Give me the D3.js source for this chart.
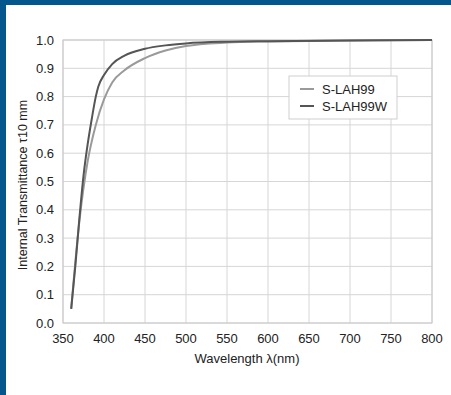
<!DOCTYPE html>
<html>
<head>
<meta charset="utf-8">
<script src="https://cdn.jsdelivr.net/npm/d3@7"></script>
<style>
  html, body { margin: 0; padding: 0; background: #fff; }
  svg { display: block; font-family: "Liberation Sans", Arial, sans-serif; }
</style>
</head>
<body>
<svg id="chart" width="451" height="395"></svg>
<script>
// wavelengths (nm) and transmittance for each glass
const wlA = [360, 370, 380, 390, 400, 410, 425, 450, 475, 500, 550, 600, 700, 800];
const laH99 = [0.05, 0.36, 0.57, 0.70, 0.79, 0.85, 0.893, 0.936, 0.963, 0.979, 0.991, 0.995, 0.998, 1.0];
const wlB = [360, 365, 370, 375, 380, 385, 390, 393, 400, 410, 425, 450, 475, 500, 550, 600, 700, 800];
const laH99W = [0.05, 0.2, 0.37, 0.52, 0.63, 0.72, 0.80, 0.835, 0.876, 0.915, 0.945, 0.969, 0.981, 0.988, 0.994, 0.996, 0.998, 1.0];
const xTicks = [350, 400, 450, 500, 550, 600, 650, 700, 750, 800];
const yTicks = [0, 0.1, 0.2, 0.3, 0.4, 0.5, 0.6, 0.7, 0.8, 0.9, 1.0];
const seriesNames = ["S-LAH99", "S-LAH99W"];
const seriesColors = ["#9a9a9a", "#555555"];

const svg = d3.select("#chart");

// blue frame on top and left
svg.append("rect").attr("x", 0).attr("y", 0).attr("width", 451).attr("height", 5).attr("fill", "#03578c");
svg.append("rect").attr("x", 0).attr("y", 0).attr("width", 6).attr("height", 395).attr("fill", "#03578c");

const pLeft = 63, pRight = 432, pTop = 40, pBottom = 323;

const x = d3.scaleLinear().domain([350, 800]).range([pLeft, pRight]);
const y = d3.scaleLinear().domain([0, 1]).range([pBottom, pTop]);

// grid
svg.append("g")
  .selectAll("line")
  .data(xTicks)
  .enter()
  .append("line")
  .attr("x1", d => x(d)).attr("x2", d => x(d))
  .attr("y1", pTop).attr("y2", pBottom)
  .attr("stroke", "#d6d6d6").attr("stroke-width", 1);

svg.append("g")
  .selectAll("line")
  .data(yTicks)
  .enter()
  .append("line")
  .attr("x1", pLeft).attr("x2", pRight)
  .attr("y1", d => y(d)).attr("y2", d => y(d))
  .attr("stroke", "#d6d6d6").attr("stroke-width", 1);

svg.append("rect")
  .attr("x", pLeft).attr("y", pTop)
  .attr("width", pRight - pLeft).attr("height", pBottom - pTop)
  .attr("fill", "none").attr("stroke", "#c8c8c8");

// tick labels
svg.append("g")
  .selectAll("text")
  .data(yTicks)
  .enter()
  .append("text")
  .attr("x", 54).attr("y", d => y(d) + 4.5)
  .attr("text-anchor", "end")
  .attr("font-size", 13).attr("fill", "#222")
  .text(d => d.toFixed(1));

svg.append("g")
  .selectAll("text")
  .data(xTicks)
  .enter()
  .append("text")
  .attr("x", d => x(d)).attr("y", 343)
  .attr("text-anchor", "middle")
  .attr("font-size", 13).attr("fill", "#222")
  .text(d => d);

// axis titles
svg.append("text")
  .attr("x", 247).attr("y", 363)
  .attr("text-anchor", "middle")
  .attr("font-size", 13).attr("fill", "#222")
  .text("Wavelength λ(nm)");

svg.append("text")
  .attr("transform", "translate(27,185) rotate(-90)")
  .attr("text-anchor", "middle")
  .attr("font-size", 12.5).attr("fill", "#222")
  .text("Internal Transmittance τ10 mm");

// curves
const line = d3.line()
  .x(d => x(d[0]))
  .y(d => y(d[1]))
  .curve(d3.curveMonotoneX);

const series = [d3.zip(wlA, laH99), d3.zip(wlB, laH99W)];

svg.append("g")
  .selectAll("path")
  .data(series)
  .enter()
  .append("path")
  .attr("d", d => line(d))
  .attr("fill", "none")
  .attr("stroke", (d, i) => seriesColors[i])
  .attr("stroke-width", 2);

// legend
const lg = svg.append("g");
lg.append("rect")
  .attr("x", 289).attr("y", 76)
  .attr("width", 108).attr("height", 43)
  .attr("fill", "#fff").attr("stroke", "#cfcfcf");

seriesNames.forEach((name, i) => {
  const cy = 89 + i * 17;
  lg.append("line")
    .attr("x1", 300).attr("x2", 314)
    .attr("y1", cy).attr("y2", cy)
    .attr("stroke", seriesColors[i]).attr("stroke-width", 2);
  lg.append("text")
    .attr("x", 322).attr("y", cy + 4.5)
    .attr("font-size", 13).attr("fill", "#222")
    .text(name);
});
</script>
</body>
</html>
